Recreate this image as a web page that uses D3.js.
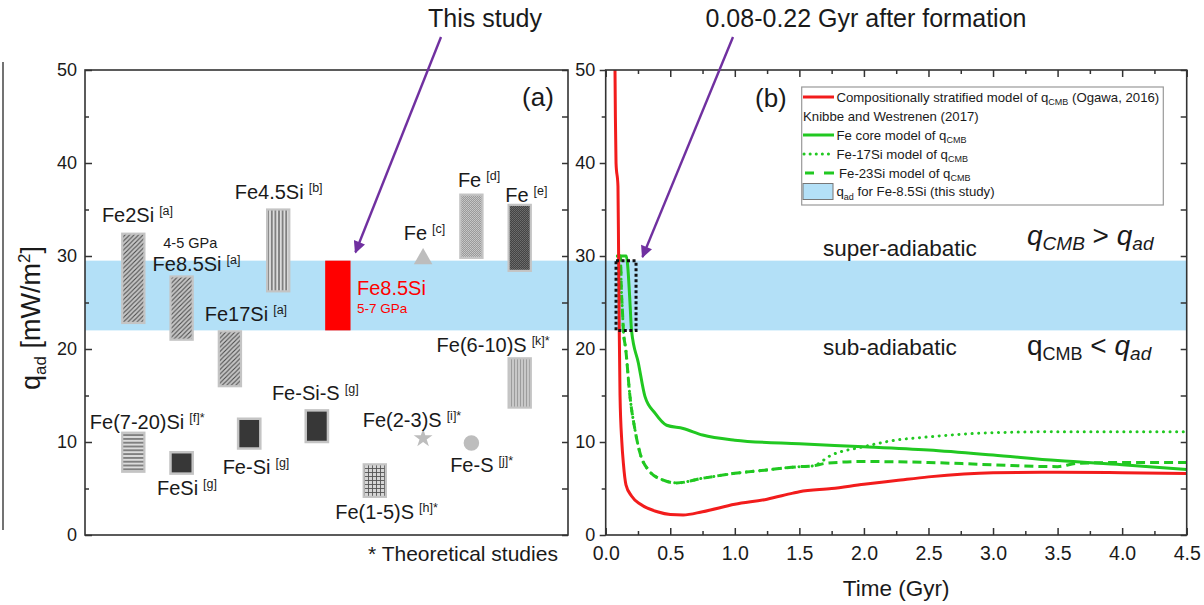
<!DOCTYPE html>
<html><head><meta charset="utf-8">
<script src="https://cdn.jsdelivr.net/npm/d3@7"></script>
<style>
body{margin:0;background:#fff;}
svg text{font-family:"Liberation Sans",Arial,sans-serif;fill:#1a1a1a;}
</style></head><body>
<svg id="c" width="1204" height="605"></svg>
<script>
// ================= DATA =================
const yTicksMajor = [0, 10, 20, 30, 40, 50];
const yTicksMinor = [5, 15, 25, 35, 45];
const timeTicksMajor = [0, 0.5, 1, 1.5, 2, 2.5, 3, 3.5, 4, 4.5];
const timeTicksMinor = [0.25, 0.75, 1.25, 1.75, 2.25, 2.75, 3.25, 3.75, 4.25];
const bandRange = [22, 29.5];            // q_ad for Fe-8.5Si (this study)
const windowTime = [0.08, 0.235];         // 0.08-0.22 Gyr after formation

// panel (a): bars (range of q_ad)
const barNames = ["Fe2Si", "Fe8.5Si 4-5 GPa", "Fe17Si", "Fe4.5Si", "Fe8.5Si this study", "Fe [d]", "Fe [e]",
                  "Fe(6-10)S", "Fe(7-20)Si", "FeSi", "Fe-Si", "Fe-Si-S", "Fe(1-5)S"];
const barSlot = [10, 20, 30, 40, 52.35, 80, 90, 90, 10, 20, 34, 48, 60];
const barLow  = [22.8, 21.0, 16.0, 26.2, 22.0, 29.8, 28.4, 13.7, 6.8, 6.6, 9.3, 10.0, 4.1];
const barHigh = [32.4, 27.8, 21.9, 35.0, 29.5, 36.6, 35.5, 19.0, 11.0, 8.9, 12.5, 13.4, 7.6];
// panel (a): single-value markers
const pointNames = ["Fe [c]", "Fe(2-3)S", "Fe-S"];
const pointSlot = [70, 70, 80];
const pointValue = [29.7, 10.4, 9.9];
// panel (a): labels
const labelMain = ["Fe2Si", "Fe8.5Si", "Fe17Si", "Fe4.5Si", "Fe", "Fe", "Fe", "Fe(6-10)S", "Fe(7-20)Si",
                   "FeSi", "Fe-Si", "Fe-Si-S", "Fe(2-3)S", "Fe-S", "Fe(1-5)S"];
const labelSup  = ["[a]", "[a]", "[a]", "[b]", "[c]", "[d]", "[e]", "[k]*", "[f]*",
                   "[g]", "[g]", "[g]", "[i]*", "[j]*", "[h]*"];

// panel (b): q_CMB through time
const redTime = [0.072, 0.075, 0.08, 0.095, 0.1, 0.105, 0.111, 0.125, 0.137, 0.157, 0.2, 0.27, 0.4, 0.5, 0.6, 0.75, 1.0, 1.25, 1.45, 1.5, 1.75, 2.0, 2.25, 2.5, 3.0, 3.5, 4.0, 4.5];
const redQ    = [50, 45, 40, 37.5, 30, 22, 15, 10, 7.7, 5.4, 4.2, 3.3, 2.5, 2.2, 2.15, 2.5, 3.3, 3.85, 4.5, 4.65, 5.0, 5.45, 5.85, 6.25, 6.7, 6.75, 6.7, 6.6];
const feTime  = [0.085, 0.16, 0.17, 0.188, 0.2, 0.253, 0.304, 0.382, 0.472, 0.6, 0.75, 1.0, 1.5, 2.0, 2.5, 3.0, 3.5, 4.0, 4.5];
const feQ     = [30, 30, 29, 25, 22, 18.5, 14.9, 13.1, 11.8, 11.45, 10.75, 10.2, 9.8, 9.5, 9.14, 8.6, 8.0, 7.55, 7.05];
const fe17Time = [0.09, 0.115, 0.12, 0.13, 0.137, 0.155, 0.188, 0.227, 0.266, 0.33, 0.446, 0.55, 0.75, 1.0, 1.25, 1.5, 1.6, 1.75, 2.0, 2.2, 2.5, 3.0, 3.5, 4.0, 4.5];
const fe17Q    = [30, 30, 27, 24, 22, 20, 14.9, 11.3, 8.8, 7.0, 5.9, 5.6, 6.1, 6.63, 7.0, 7.35, 7.42, 8.6, 9.5, 10.1, 10.55, 11.0, 11.1, 11.1, 11.1];
const fe23Time = [0.09, 0.115, 0.12, 0.13, 0.137, 0.155, 0.188, 0.227, 0.266, 0.33, 0.446, 0.55, 0.75, 1.0, 1.25, 1.5, 1.6, 1.7, 2.0, 2.5, 3.0, 3.5, 3.65, 4.0, 4.5];
const fe23Q    = [30, 30, 27, 24, 22, 20, 14.9, 11.3, 8.8, 7.0, 5.9, 5.6, 6.1, 6.63, 7.0, 7.35, 7.42, 7.7, 7.9, 7.8, 7.55, 7.35, 7.7, 7.8, 7.8];

// ================= LAYOUT / STYLE =================
const barStyle = ["diag", "diag", "diag", "vert", "red", "fine", "darkfine", "vertlight", "horiz", "dark", "dark", "dark", "grid"];
const pointStyle = ["triangle", "star", "circle"];
// label anchors in panel (a) data units [slot, q]
const labelAt = [[3.5, 33.7], [14, 28.4], [24.8, 23.0], [31, 36.1], [66, 31.7], [77.2, 37.4], [87, 35.8], [72.8, 19.7], [1, 11.45],
                 [14.9, 4.3], [28.5, 6.6], [38.7, 14.5], [57.5, 11.6], [75.6, 6.8], [51.8, 1.77]];

const svg = d3.select("#c");
const yA = d3.scaleLinear().domain([0, 50]).range([535, 70]);
const xA = d3.scaleLinear().domain([0, 100]).range([85, 568]);
const xB = d3.scaleLinear().domain([0, 4.5]).range([605.7, 1186.7]);
const slotW = 4.6, redW = 5.25;

const GREEN = "#21c821", RED = "#f21c1c", BAND = "#b3e0f7", PURPLE = "#7030a0";

// ---- patterns ----
const defs = svg.append("defs");
function pattern(id, w, h, bg, fn) {
  const p = defs.append("pattern").attr("id", id).attr("patternUnits", "userSpaceOnUse").attr("width", w).attr("height", h);
  p.append("rect").attr("width", w).attr("height", h).attr("fill", bg);
  fn(p);
}
pattern("diag", 4.5, 4.5, "#c6c6c6", p => p.append("path").attr("d", "M-1,1 l2,-2 M0,4.5 l4.5,-4.5 M3.5,5.5 l2,-2").attr("stroke", "#4a4a4a").attr("stroke-width", 1.1));
pattern("vert", 3.6, 4, "#dcdcdc", p => p.append("line").attr("x1", 1.8).attr("x2", 1.8).attr("y1", 0).attr("y2", 4).attr("stroke", "#5c5c5c").attr("stroke-width", 1.3));
pattern("vertlight", 3, 4, "#cdcdcd", p => p.append("line").attr("x1", 1.5).attr("x2", 1.5).attr("y1", 0).attr("y2", 4).attr("stroke", "#9c9c9c").attr("stroke-width", 1.2));
pattern("horiz", 4, 3.8, "#dcdcdc", p => p.append("line").attr("x1", 0).attr("x2", 4).attr("y1", 1.9).attr("y2", 1.9).attr("stroke", "#555").attr("stroke-width", 1.3));
pattern("fine", 2, 2, "#9a9a9a", p => { p.append("rect").attr("width", 1).attr("height", 1).attr("fill", "#c8c8c8"); p.append("rect").attr("x", 1).attr("y", 1).attr("width", 1).attr("height", 1).attr("fill", "#c0c0c0"); });
pattern("darkfine", 2, 2, "#444", p => { p.append("rect").attr("width", 1).attr("height", 1).attr("fill", "#6e6e6e"); p.append("rect").attr("x", 1).attr("y", 1).attr("width", 1).attr("height", 1).attr("fill", "#666"); });
pattern("grid", 4, 4, "#d6d6d6", p => p.append("path").attr("d", "M0,0.5 H4 M0.5,0 V4").attr("stroke", "#555").attr("stroke-width", 0.9));
defs.append("marker").attr("id", "arr").attr("viewBox", "0 0 10 10").attr("refX", 9).attr("refY", 5)
  .attr("markerWidth", 5.5).attr("markerHeight", 5).attr("orient", "auto").attr("markerUnits", "strokeWidth")
  .append("path").attr("d", "M0,0 L10,5 L0,10 z").attr("fill", PURPLE);

// ---- frame line at far left ----
svg.append("line").attr("x1", 3).attr("x2", 3).attr("y1", 62).attr("y2", 530).attr("stroke", "#444").attr("stroke-width", 1.5);

// ---- adiabatic band across both panels ----
svg.append("rect").attr("x", xA(0)).attr("width", xB(4.5) - xA(0))
  .attr("y", yA(bandRange[1])).attr("height", yA(bandRange[0]) - yA(bandRange[1])).attr("fill", BAND);

// ---- panel (a) bars ----
const gA = svg.append("g");
barNames.forEach((n, i) => {
  const w = barStyle[i] === "red" ? redW : slotW;
  const x0 = xA(barSlot[i] - w / 2), x1 = xA(barSlot[i] + w / 2);
  const r = gA.append("rect").attr("x", x0).attr("width", x1 - x0)
    .attr("y", yA(barHigh[i])).attr("height", yA(barLow[i]) - yA(barHigh[i]));
  if (barStyle[i] === "red") r.attr("fill", "#ff0000");
  else if (barStyle[i] === "dark") r.attr("fill", "#373737").attr("stroke", "#c4c4c4").attr("stroke-width", 2.5);
  else r.attr("fill", `url(#${barStyle[i]})`).attr("stroke", "#c4c4c4").attr("stroke-width", 2.2);
});
pointNames.forEach((n, i) => {
  const type = pointStyle[i] === "triangle" ? d3.symbolTriangle : pointStyle[i] === "star" ? d3.symbolStar : d3.symbolCircle;
  const size = pointStyle[i] === "triangle" ? 150 : pointStyle[i] === "star" ? 110 : 190;
  gA.append("path").attr("d", d3.symbol().type(type).size(size)())
    .attr("transform", `translate(${xA(pointSlot[i])},${yA(pointValue[i])})`).attr("fill", "#bdbdbd");
});
labelMain.forEach((m, i) => {
  const t = gA.append("text").attr("x", xA(labelAt[i][0])).attr("y", yA(labelAt[i][1])).attr("font-size", 20);
  t.append("tspan").text(m);
  t.append("tspan").attr("dx", 5).attr("dy", -7).attr("font-size", 12.5).text(labelSup[i]);
});
gA.append("text").attr("x", xA(16.2)).attr("y", yA(30.9)).attr("font-size", 14.5).text("4-5 GPa");
gA.append("text").attr("x", xA(56.3)).attr("y", yA(25.8)).attr("font-size", 20).style("fill", "#ff0000").text("Fe8.5Si");
gA.append("text").attr("x", xA(56.3)).attr("y", yA(23.9)).attr("font-size", 13.5).style("fill", "#ff0000").text("5-7 GPa");
gA.append("text").attr("x", xA(90.5)).attr("y", yA(46.1)).attr("font-size", 26).text("(a)");

// ---- panel (a) axes ----
function styleAxis(g, fs) {
  g.select(".domain").remove();
  g.selectAll(".tick line").attr("stroke", "#333").attr("stroke-width", 1.5);
  g.selectAll(".tick text").attr("font-size", fs).attr("font-family", "'Liberation Sans',Arial,sans-serif").style("fill", "#1a1a1a");
}
gA.append("g").attr("transform", `translate(${xA(0)},0)`)
  .call(d3.axisLeft(yA).tickValues(yTicksMajor).tickSize(-7).tickPadding(8)).call(g => styleAxis(g, 18));
gA.append("g").attr("transform", `translate(${xA(0)},0)`)
  .call(d3.axisLeft(yA).tickValues(yTicksMinor).tickSize(-4).tickFormat("")).call(g => styleAxis(g, 18));
gA.append("g").attr("transform", `translate(${xA(100)},0)`)
  .call(d3.axisRight(yA).tickValues(yTicksMajor.concat(yTicksMinor)).tickSize(-6).tickFormat("")).call(g => styleAxis(g, 18));
gA.append("rect").attr("x", xA(0)).attr("y", yA(50)).attr("width", xA(100) - xA(0)).attr("height", yA(0) - yA(50))
  .attr("fill", "none").attr("stroke", "#333").attr("stroke-width", 1.6);
const yl = svg.append("text").attr("transform", `translate(40,318) rotate(-90)`).attr("text-anchor", "middle").attr("font-size", 27);
yl.append("tspan").text("q");
yl.append("tspan").attr("dy", 6).attr("font-size", 17).text("ad");
yl.append("tspan").attr("dy", -6).text(" [mW/m");
yl.append("tspan").attr("dy", -10).attr("font-size", 17).text("2");
yl.append("tspan").attr("dy", 10).text("]");
svg.append("text").attr("x", 368).attr("y", 561).attr("font-size", 21).attr("font-family", "Lato,'Open Sans',sans-serif").text("* Theoretical studies");

// ---- panel (b) ----
const gB = svg.append("g");
function series(t, q) { return t.map((d, i) => [d, q[i]]); }
const line = d3.line().x(d => xB(d[0])).y(d => yA(d[1])).curve(d3.curveMonotoneX);
gB.append("path").datum(series(fe23Time, fe23Q)).attr("d", line).attr("fill", "none").attr("stroke", GREEN).attr("stroke-width", 3).attr("stroke-dasharray", "9,5");
gB.append("path").datum(series(fe17Time, fe17Q)).attr("d", line).attr("fill", "none").attr("stroke", GREEN).attr("stroke-width", 3).attr("stroke-dasharray", "0.1,6.5").attr("stroke-linecap", "round");
gB.append("path").datum(series(feTime, feQ)).attr("d", line).attr("fill", "none").attr("stroke", GREEN).attr("stroke-width", 3);
gB.append("path").datum(series(redTime, redQ)).attr("d", line).attr("fill", "none").attr("stroke", RED).attr("stroke-width", 3);
gB.append("rect").attr("x", xB(windowTime[0])).attr("width", xB(windowTime[1]) - xB(windowTime[0]))
  .attr("y", yA(bandRange[1])).attr("height", yA(bandRange[0]) - yA(bandRange[1]))
  .attr("fill", "none").attr("stroke", "#111").attr("stroke-width", 3).attr("stroke-dasharray", "3,2.5");

gB.append("g").attr("transform", `translate(${xB(0)},0)`)
  .call(d3.axisLeft(yA).tickValues(yTicksMajor).tickSize(6).tickPadding(4.5)).call(g => styleAxis(g, 18));
gB.append("g").attr("transform", `translate(${xB(0)},0)`)
  .call(d3.axisLeft(yA).tickValues(yTicksMinor).tickSize(4).tickFormat("")).call(g => styleAxis(g, 18));
gB.append("g").attr("transform", `translate(${xB(4.5)},0)`)
  .call(d3.axisRight(yA).tickValues(yTicksMajor.concat(yTicksMinor)).tickSize(-6).tickFormat("")).call(g => styleAxis(g, 18));
gB.append("g").attr("transform", `translate(0,${yA(0)})`)
  .call(d3.axisBottom(xB).tickValues(timeTicksMajor).tickSize(-7).tickPadding(11.5).tickFormat(d3.format(".1f"))).call(g => styleAxis(g, 19.5));
gB.append("g").attr("transform", `translate(0,${yA(0)})`)
  .call(d3.axisBottom(xB).tickValues(timeTicksMinor).tickSize(-4).tickFormat("")).call(g => styleAxis(g, 19));
gB.append("g").attr("transform", `translate(0,${yA(50)})`)
  .call(d3.axisTop(xB).tickValues(timeTicksMajor).tickSize(-7).tickFormat("")).call(g => styleAxis(g, 19));
gB.append("g").attr("transform", `translate(0,${yA(50)})`)
  .call(d3.axisTop(xB).tickValues(timeTicksMinor).tickSize(-4).tickFormat("")).call(g => styleAxis(g, 19));
gB.append("rect").attr("x", xB(0)).attr("y", yA(50)).attr("width", xB(4.5) - xB(0)).attr("height", yA(0) - yA(50))
  .attr("fill", "none").attr("stroke", "#333").attr("stroke-width", 1.6);
svg.append("text").attr("x", (xB(0) + xB(4.5)) / 2).attr("y", 596).attr("text-anchor", "middle").attr("font-size", 22.5).text("Time (Gyr)");
gB.append("text").attr("x", 755).attr("y", 107).attr("font-size", 26).text("(b)");
gB.append("text").attr("x", 823).attr("y", 255.5).attr("font-size", 22.5).text("super-adiabatic");
gB.append("text").attr("x", 823).attr("y", 354.5).attr("font-size", 22.5).text("sub-adiabatic");
// math inequalities
const SERIF = "'Liberation Serif','DejaVu Serif',serif";
const m1 = gB.append("text").attr("x", 1027).attr("y", 245).attr("font-size", 28).attr("font-family", SERIF);
m1.append("tspan").attr("font-style", "italic").text("q");
m1.append("tspan").attr("font-style", "italic").attr("font-size", 19).attr("dy", 5).text("CMB");
m1.append("tspan").attr("dy", -5).text(" > ");
m1.append("tspan").attr("font-style", "italic").text("q");
m1.append("tspan").attr("font-style", "italic").attr("font-size", 19).attr("dy", 5).text("ad");
const m2 = gB.append("text").attr("x", 1027).attr("y", 355).attr("font-size", 28).attr("font-family", SERIF);
m2.append("tspan").text("q");
m2.append("tspan").attr("font-size", 18).attr("dy", 5).text("CMB");
m2.append("tspan").attr("dy", -5).text(" < ");
m2.append("tspan").attr("font-style", "italic").text("q");
m2.append("tspan").attr("font-style", "italic").attr("font-size", 19).attr("dy", 5).text("ad");

// ---- legend ----
const lg = gB.append("g");
lg.append("rect").attr("x", 801.7).attr("y", 87).attr("width", 361.6).attr("height", 118).attr("fill", "#fff").attr("stroke", "#999").attr("stroke-width", 1.2);
const legRows = [97, 116.5, 135, 154, 173, 191.5];
// parts: [text, isSubscript]
function legText(y, x, parts) {
  const t = lg.append("text").attr("x", x).attr("y", y + 4.6).attr("font-size", 13.2);
  let down = false;
  parts.forEach(p => {
    const s = t.append("tspan").text(p[0]);
    if (p[1]) { s.attr("font-size", 9).attr("dy", 3.5); down = true; }
    else if (down) { s.attr("dy", -3.5); down = false; }
  });
}
lg.append("line").attr("x1", 803).attr("x2", 834).attr("y1", legRows[0]).attr("y2", legRows[0]).attr("stroke", RED).attr("stroke-width", 3);
legText(legRows[0], 836.5, [["Compositionally stratified model of q"], ["CMB", true], [" (Ogawa, 2016)"]]);
legText(legRows[1], 803, [["Knibbe and Westrenen (2017)"]]);
lg.append("line").attr("x1", 803).attr("x2", 834).attr("y1", legRows[2]).attr("y2", legRows[2]).attr("stroke", GREEN).attr("stroke-width", 3);
legText(legRows[2], 836.5, [["Fe core model of q"], ["CMB", true]]);
lg.append("line").attr("x1", 804).attr("x2", 834).attr("y1", legRows[3]).attr("y2", legRows[3]).attr("stroke", GREEN).attr("stroke-width", 3).attr("stroke-dasharray", "0.1,6").attr("stroke-linecap", "round");
legText(legRows[3], 836.5, [["Fe-17Si model of q"], ["CMB", true]]);
lg.append("line").attr("x1", 803).attr("x2", 834).attr("y1", legRows[4]).attr("y2", legRows[4]).attr("stroke", GREEN).attr("stroke-width", 3).attr("stroke-dasharray", "0,2,9,10,9");
legText(legRows[4], 839, [["Fe-23Si model of q"], ["CMB", true]]);
lg.append("rect").attr("x", 803).attr("y", legRows[5] - 8).attr("width", 30).attr("height", 16).attr("fill", BAND).attr("stroke", "#777").attr("stroke-width", 1);
legText(legRows[5], 836.5, [["q"], ["ad", true], [" for Fe-8.5Si (this study)"]]);

// ---- annotations ----
const CAL = "Lato,'Open Sans',sans-serif";
svg.append("text").attr("x", 485).attr("y", 27).attr("text-anchor", "middle").attr("font-size", 25).attr("font-family", CAL).text("This study");
svg.append("text").attr("x", 866).attr("y", 27).attr("text-anchor", "middle").attr("font-size", 25).attr("font-family", CAL).text("0.08-0.22 Gyr after formation");
const tip1 = [xA(56), yA(30.4)], tip2 = [xB(0.285), yA(29.9)];
svg.append("line").attr("x1", 441).attr("y1", 37).attr("x2", tip1[0]).attr("y2", tip1[1]).attr("stroke", PURPLE).attr("stroke-width", 2.4).attr("marker-end", "url(#arr)");
svg.append("line").attr("x1", 733).attr("y1", 37).attr("x2", tip2[0]).attr("y2", tip2[1]).attr("stroke", PURPLE).attr("stroke-width", 2.4).attr("marker-end", "url(#arr)");
</script>
</body></html>
